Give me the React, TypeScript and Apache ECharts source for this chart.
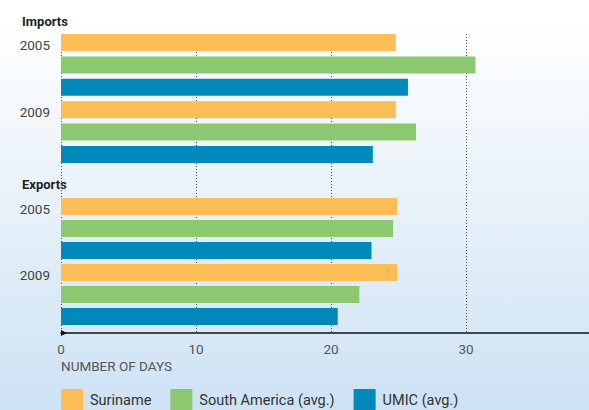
import React, { useEffect, useRef } from "react";
import * as echarts from "echarts";

const years = ["2005", "2009"];
const seriesNames = ["Suriname", "South America (avg.)", "UMIC (avg.)"];
const colors = ["#FDBE57", "#8CC870", "#0089BA"];
const importsSuriname = [24.8, 24.8];
const importsSouthAmerica = [30.7, 26.3];
const importsUMIC = [25.7, 23.1];
const exportsSuriname = [24.9, 24.9];
const exportsSouthAmerica = [24.6, 22.1];
const exportsUMIC = [23.0, 20.5];
const groupNames = ["Imports", "Exports"];
const xTicks = [0, 10, 20, 30, 40];
const xAxisTitle = "NUMBER OF DAYS";

const FONT = "Roboto, 'Liberation Sans Narrow', sans-serif";

export default function App() {
  const ref = useRef<HTMLDivElement>(null);
  useEffect(() => {
    document.body.style.margin = "0";
    if (!ref.current) return;
    const chart = echarts.init(ref.current, null, { renderer: "svg" });
    const importsData = [importsSuriname, importsSouthAmerica, importsUMIC];
    const exportsData = [exportsSuriname, exportsSouthAmerica, exportsUMIC];
    const hiddenX = (gridIndex: number) => ({
      type: "value",
      gridIndex,
      min: xTicks[0],
      max: xTicks[xTicks.length - 1],
      show: false,
    });
    const catY = (gridIndex: number) => ({
      type: "category",
      gridIndex,
      data: years,
      inverse: true,
      axisLine: { show: false },
      axisTick: { show: false },
      axisLabel: {
        margin: 11,
        formatter: (v: string) => `{y|${v}}\n{g| }`,
        rich: {
          y: { color: "#444", fontFamily: FONT, fontSize: 13.5, lineHeight: 16 },
          g: { fontSize: 10, lineHeight: 40 },
        },
      },
    });
    const option: any = {
      animation: false,
      grid: [
        { left: 61, width: 540, top: 34, bottom: 77, outerBoundsMode: "none" },
        { left: 61, width: 540, top: 31.3, height: 134.4, outerBoundsMode: "none" },
        { left: 61, width: 540, top: 195.5, height: 132, outerBoundsMode: "none" },
      ],
      xAxis: [
        {
          type: "value",
          gridIndex: 0,
          min: xTicks[0],
          max: xTicks[xTicks.length - 1],
          interval: 10,
          axisLine: {
            show: true,
            lineStyle: { color: "#111", width: 1.5 },
            symbol: ["path://M0,0 L10,0 L5,10 Z", "none"],
            symbolSize: [7, 6],
            symbolOffset: [3, 0],
          },
          axisTick: { show: false },
          axisLabel: {
            margin: 9,
            color: "#555",
            fontFamily: FONT,
            fontSize: 13.5,
          },
          splitLine: {
            show: true,
            lineStyle: { color: "#555", type: [1, 2], width: 1 },
          },
        },
        hiddenX(1),
        hiddenX(2),
      ],
      yAxis: [
        { type: "value", gridIndex: 0, show: false, min: 0, max: 1 },
        catY(1),
        catY(2),
      ],
      legend: {
        left: 61,
        top: 389,
        padding: 0,
        itemWidth: 22,
        itemHeight: 22,
        itemGap: 19,
        icon: "rect",
        data: seriesNames,
        textStyle: { color: "#333", fontFamily: FONT, fontSize: 14.5, padding: [0, 0, 0, 2] },
      },
      graphic: [
        {
          type: "text",
          left: 22,
          top: 15,
          style: { text: groupNames[0], fill: "#222", font: `bold 13px ${FONT}` },
        },
        {
          type: "text",
          left: 22,
          top: 178,
          style: { text: groupNames[1], fill: "#222", font: `bold 13px ${FONT}` },
        },
        {
          type: "text",
          left: 61,
          top: 359,
          style: { text: xAxisTitle, fill: "#555", font: `13.5px ${FONT}` },
        },
      ],
      series: [
        ...seriesNames.map((name, i) => ({
          type: "bar",
          name,
          xAxisIndex: 1,
          yAxisIndex: 1,
          data: importsData[i],
          barWidth: 17,
          barGap: "32%",
          itemStyle: { color: colors[i] },
        })),
        ...seriesNames.map((name, i) => ({
          type: "bar",
          name,
          xAxisIndex: 2,
          yAxisIndex: 2,
          data: exportsData[i],
          barWidth: 17,
          barGap: "29%",
          itemStyle: { color: colors[i] },
        })),
      ],
    };
    chart.setOption(option);
    return () => chart.dispose();
  }, []);
  return (
    <div
      style={{
        width: 589,
        height: 410,
        background: "linear-gradient(to bottom, #ffffff 0%, #ffffff 6%, #cde2f4 100%)",
        overflow: "hidden",
      }}
    >
      <div ref={ref} style={{ width: 589, height: 410 }} />
    </div>
  );
}
